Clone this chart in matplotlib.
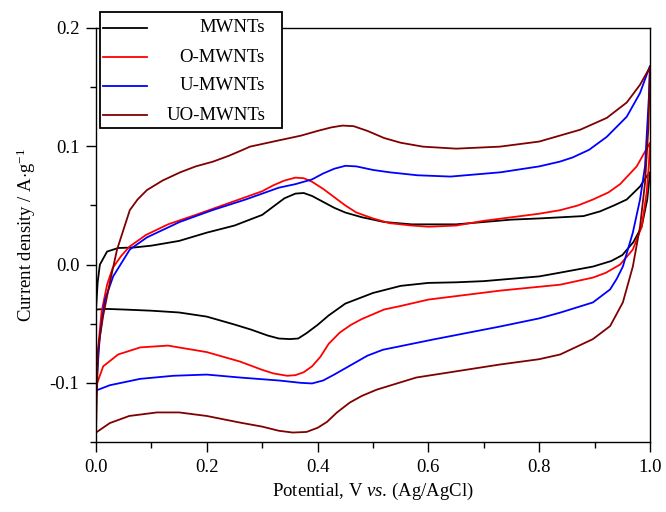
import matplotlib
matplotlib.use("Agg")
import matplotlib.pyplot as plt
from matplotlib.lines import Line2D
from matplotlib.patches import Rectangle

plt.rcParams['font.family'] = ['Liberation Serif', 'DejaVu Serif']
plt.rcParams['mathtext.fontset'] = 'custom'
plt.rcParams['mathtext.rm'] = 'Liberation Serif'
plt.rcParams['mathtext.it'] = 'Liberation Serif:italic'
plt.rcParams['axes.unicode_minus'] = False

# MWNTs: anodic (0 -> 1 V) then cathodic (1 -> 0 V)
mw_up_v = [0.0, 0.003, 0.007, 0.02, 0.04, 0.07, 0.1, 0.15, 0.2, 0.25, 0.3, 0.32, 0.34,
           0.36, 0.375, 0.39, 0.41, 0.43, 0.45, 0.48, 0.52, 0.57, 0.6, 0.65, 0.7, 0.75,
           0.8, 0.84, 0.88, 0.91, 0.935, 0.958, 0.982, 0.993, 1.0]
mw_up_i = [-0.038, -0.015, 0.0, 0.011, 0.014, 0.0145, 0.016, 0.02, 0.027, 0.033, 0.042,
           0.049, 0.056, 0.060, 0.0605, 0.058, 0.053, 0.048, 0.044, 0.040, 0.036, 0.034,
           0.034, 0.034, 0.036, 0.038, 0.039, 0.040, 0.041, 0.045, 0.050, 0.055, 0.066,
           0.074, 0.078]
mw_dn_v = [0.995, 0.985, 0.97, 0.95, 0.93, 0.897, 0.838, 0.8, 0.75, 0.7, 0.65, 0.6, 0.55,
           0.5, 0.45, 0.42, 0.4, 0.38, 0.365, 0.35, 0.33, 0.31, 0.28, 0.25, 0.2, 0.15,
           0.1, 0.05, 0.02, 0.0]
mw_dn_i = [0.055, 0.032, 0.019, 0.008, 0.003, -0.0017, -0.0068, -0.010, -0.012, -0.014,
           -0.015, -0.0155, -0.018, -0.024, -0.033, -0.043, -0.051, -0.058, -0.0625, -0.063,
           -0.0625, -0.060, -0.055, -0.0507, -0.044, -0.0405, -0.039, -0.038, -0.0375,
           -0.038]

# O-MWNTs
o_up_v = [0.0, 0.005, 0.01, 0.02, 0.03, 0.045, 0.06, 0.09, 0.13, 0.18, 0.24, 0.3, 0.32,
          0.34, 0.36, 0.375, 0.39, 0.41, 0.43, 0.45, 0.47, 0.5, 0.53, 0.57, 0.6, 0.65, 0.7,
          0.75, 0.8, 0.838, 0.87, 0.897, 0.925, 0.946, 0.976, 0.99, 1.0]
o_up_i = [-0.103, -0.065, -0.04, -0.017, -0.003, 0.007, 0.015, 0.025, 0.034, 0.042, 0.052,
          0.062, 0.067, 0.071, 0.0735, 0.073, 0.070, 0.064, 0.057, 0.050, 0.044, 0.039,
          0.035, 0.033, 0.032, 0.033, 0.037, 0.040, 0.043, 0.046, 0.050, 0.055, 0.061,
          0.068, 0.083, 0.0947, 0.103]
o_dn_v = [0.998, 0.994, 0.985, 0.969, 0.946, 0.92, 0.897, 0.838, 0.73, 0.6, 0.55, 0.52,
          0.48, 0.46, 0.44, 0.42, 0.405, 0.39, 0.375, 0.36, 0.345, 0.32, 0.3, 0.26, 0.2,
          0.13, 0.08, 0.04, 0.013, 0.0]
o_dn_i = [0.085, 0.061, 0.032, 0.0127, 0.0, -0.007, -0.011, -0.017, -0.022, -0.0296, -0.035,
          -0.038, -0.046, -0.051, -0.0575, -0.067, -0.078, -0.086, -0.091, -0.0935, -0.094,
          -0.092, -0.089, -0.082, -0.074, -0.0685, -0.070, -0.076, -0.086, -0.103]

# U-MWNTs
u_up_v = [0.0, 0.007, 0.016, 0.031, 0.061, 0.092, 0.151, 0.21, 0.27, 0.33, 0.36, 0.39,
          0.41, 0.43, 0.45, 0.47, 0.5, 0.53, 0.58, 0.64, 0.73, 0.8, 0.837, 0.86, 0.89,
          0.922, 0.958, 0.982, 0.996, 1.0]
u_up_i = [-0.1065, -0.06, -0.03, -0.01, 0.0127, 0.023, 0.036, 0.046, 0.055, 0.065, 0.068,
          0.072, 0.077, 0.081, 0.0835, 0.083, 0.080, 0.078, 0.0755, 0.0744, 0.078, 0.083,
          0.087, 0.0905, 0.097, 0.108, 0.125, 0.145, 0.163, 0.168]
u_dn_v = [0.998, 0.991, 0.982, 0.969, 0.951, 0.94, 0.928, 0.897, 0.838, 0.8, 0.729, 0.608,
          0.518, 0.49, 0.46, 0.43, 0.41, 0.39, 0.37, 0.33, 0.26, 0.2, 0.14, 0.08, 0.025,
          0.0]
u_dn_i = [0.142, 0.083, 0.055, 0.027, -0.0017, -0.012, -0.021, -0.032, -0.0406, -0.0455,
          -0.0524, -0.0634, -0.072, -0.077, -0.085, -0.093, -0.098, -0.1005, -0.100, -0.098,
          -0.0955, -0.093, -0.094, -0.0966, -0.102, -0.1065]

# UO-MWNTs
uo_up_v = [0.0, 0.0036, 0.0126, 0.025, 0.038, 0.061, 0.075, 0.092, 0.12, 0.152, 0.18,
           0.211, 0.24, 0.265, 0.278, 0.33, 0.37, 0.4, 0.425, 0.445, 0.465, 0.49, 0.52,
           0.55, 0.59, 0.65, 0.729, 0.8, 0.874, 0.922, 0.958, 0.982, 1.0]
uo_up_i = [-0.142, -0.072, -0.044, -0.015, 0.0127, 0.046, 0.055, 0.063, 0.071, 0.078, 0.083,
           0.087, 0.092, 0.097, 0.0997, 0.105, 0.109, 0.113, 0.116, 0.1175, 0.117, 0.113,
           0.107, 0.103, 0.0997, 0.098, 0.0997, 0.104, 0.114, 0.124, 0.137, 0.152, 0.167]
uo_dn_v = [0.997, 0.991, 0.982, 0.969, 0.951, 0.928, 0.897, 0.838, 0.8, 0.729, 0.578, 0.507,
           0.48, 0.458, 0.435, 0.417, 0.4, 0.38, 0.355, 0.33, 0.3, 0.26, 0.2, 0.15, 0.11,
           0.06, 0.025, 0.0]
uo_dn_i = [0.115, 0.069, 0.032, -0.0017, -0.032, -0.052, -0.063, -0.076, -0.080, -0.0845,
           -0.0955, -0.1057, -0.111, -0.1167, -0.125, -0.133, -0.138, -0.1415, -0.142,
           -0.1405, -0.137, -0.1336, -0.128, -0.125, -0.125, -0.128, -0.134, -0.142]

labels = ['MWNTs', 'O-MWNTs', 'U-MWNTs', 'UO-MWNTs']
colors = ['#000000', '#ff0000', '#0000ff', '#800000']
curves = [(mw_up_v, mw_up_i, mw_dn_v, mw_dn_i),
          (o_up_v, o_up_i, o_dn_v, o_dn_i),
          (u_up_v, u_up_i, u_dn_v, u_dn_i),
          (uo_up_v, uo_up_i, uo_dn_v, uo_dn_i)]

fig = plt.figure(figsize=(6.66, 5.12), dpi=100)
ax = fig.add_axes([96 / 666, 70 / 512, 554 / 666, 414 / 512])

for (uv, ui, dv, di), c in zip(curves, colors):
    ax.plot(list(uv) + list(dv), list(ui) + list(di), color=c, lw=1.3,
            solid_joinstyle='round')

ax.set_xlim(0, 1.0)
ax.set_ylim(-0.15, 0.2)
ax.set_xticks([0.0, 0.2, 0.4, 0.6, 0.8, 1.0])
ax.set_xticks([0.1, 0.3, 0.5, 0.7, 0.9], minor=True)
ax.set_yticks([-0.1, 0.0, 0.1, 0.2])
ax.set_yticks([-0.15, -0.05, 0.05, 0.15], minor=True)
ax.xaxis.set_major_formatter(matplotlib.ticker.FormatStrFormatter('%.1f'))
ax.yaxis.set_major_formatter(matplotlib.ticker.FormatStrFormatter('%.1f'))
ax.tick_params(which='both', direction='out', width=1.0, labelsize=13.5, pad=5)
ax.tick_params(which='major', length=7)
ax.tick_params(which='minor', length=4)
for s in ax.spines.values():
    s.set_linewidth(1.0)

ax.set_xlabel(r'Potential, V $\mathit{vs}$. (Ag/AgCl)', fontsize=13.5, labelpad=4)
ax.set_ylabel(r'Current density / A$\cdot$g$^{\mathregular{-1}}$', fontsize=13.5, labelpad=8)

# legend box, drawn by hand so the labels can be right-aligned
fig.patches.append(Rectangle((100 / 666, 1 - 128 / 512), 182 / 666, 116 / 512,
                             transform=fig.transFigure, facecolor='white',
                             edgecolor='black', lw=1.3, zorder=5))
for k, (lab, c) in enumerate(zip(labels, colors)):
    yy = 1 - (28 + 29 * k) / 512
    fig.add_artist(Line2D([103 / 666, 147 / 666], [yy, yy], color=c, lw=1.3, zorder=6))
    fig.text(265 / 666, yy, lab, ha='right', va='center', fontsize=13.5, zorder=6)

fig.savefig('out.png', dpi=100)
